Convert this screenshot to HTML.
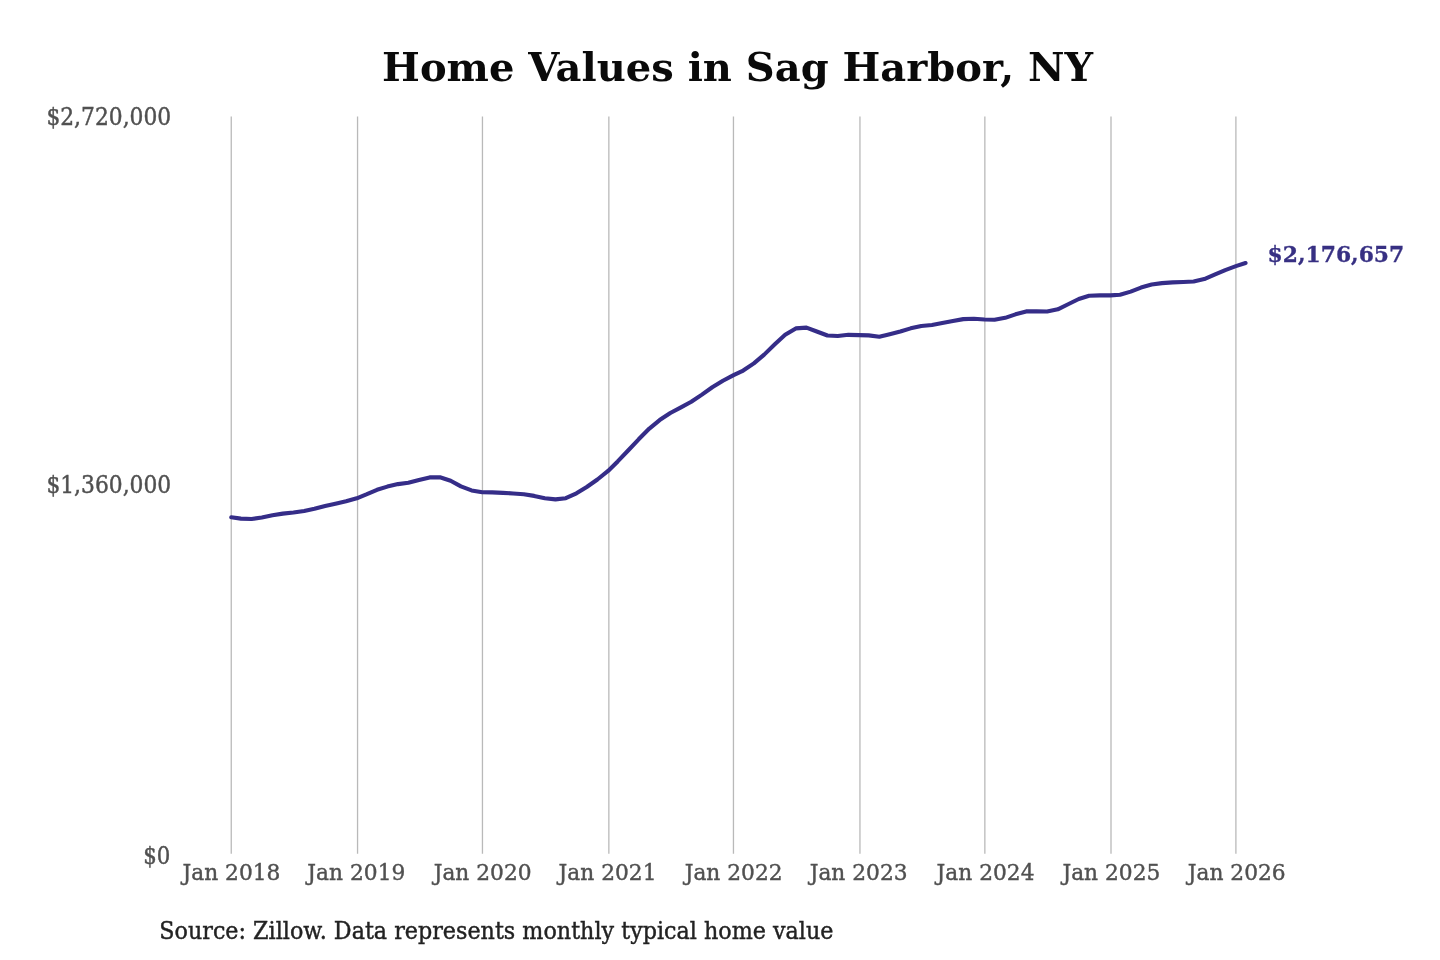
<!DOCTYPE html>
<html lang="en">
<head>
<meta charset="utf-8">
<title>Home Values in Sag Harbor, NY</title>
<style>
html,body{margin:0;padding:0;background:#fff;}
body{width:1440px;height:960px;overflow:hidden;position:relative;}
svg{position:absolute;left:0;top:0;display:block;}
text{font-family:"DejaVu Serif","Liberation Serif",serif;}
.t{font-weight:bold;font-size:40px;fill:#0a0a0a;}
.y{font-size:21.3px;fill:#505050;stroke:#505050;stroke-width:0.4px;}
.x{font-size:22.2px;fill:#505050;stroke:#505050;stroke-width:0.4px;}
.s{font-size:22.2px;fill:#222;stroke:#222;stroke-width:0.4px;}
.v{font-size:21.3px;font-weight:bold;fill:#373083;stroke:#373083;stroke-width:0.3px;}
</style>
</head>
<body>
<svg width="1440" height="960" viewBox="0 0 1440 960">
<rect width="1440" height="960" fill="#ffffff"/>
<text class="t" transform="translate(737.6 81) scale(1 0.968)" text-anchor="middle">Home Values in Sag Harbor, NY</text>
<g stroke="#b9b9b9" stroke-width="1.3">
<line x1="231.25" y1="116.5" x2="231.25" y2="853.7"/>
<line x1="357.55" y1="116.5" x2="357.55" y2="853.7"/>
<line x1="482.45" y1="116.5" x2="482.45" y2="853.7"/>
<line x1="608.85" y1="116.5" x2="608.85" y2="853.7"/>
<line x1="733.45" y1="116.5" x2="733.45" y2="853.7"/>
<line x1="859.95" y1="116.5" x2="859.95" y2="853.7"/>
<line x1="984.85" y1="116.5" x2="984.85" y2="853.7"/>
<line x1="1111.00" y1="116.5" x2="1111.00" y2="853.7"/>
<line x1="1235.90" y1="116.5" x2="1235.90" y2="853.7"/>
</g>
<text class="y" transform="translate(171.20 124.60) scale(1.0240 1.1200)" text-anchor="end">$2,720,000</text>
<text class="y" transform="translate(171.20 492.70) scale(1.0240 1.1200)" text-anchor="end">$1,360,000</text>
<text class="y" transform="translate(170.40 863.70) scale(1.0000 1.1200)" text-anchor="end">$0</text>
<text class="x" transform="translate(231.45 880.00) scale(0.9800 1.0400)" text-anchor="middle">Jan 2018</text>
<text class="x" transform="translate(356.35 880.00) scale(0.9800 1.0400)" text-anchor="middle">Jan 2019</text>
<text class="x" transform="translate(482.65 880.00) scale(0.9800 1.0400)" text-anchor="middle">Jan 2020</text>
<text class="x" transform="translate(607.55 880.00) scale(0.9800 1.0400)" text-anchor="middle">Jan 2021</text>
<text class="x" transform="translate(733.65 880.00) scale(0.9800 1.0400)" text-anchor="middle">Jan 2022</text>
<text class="x" transform="translate(858.65 880.00) scale(0.9800 1.0400)" text-anchor="middle">Jan 2023</text>
<text class="x" transform="translate(985.55 880.00) scale(0.9800 1.0400)" text-anchor="middle">Jan 2024</text>
<text class="x" transform="translate(1111.40 880.00) scale(0.9800 1.0400)" text-anchor="middle">Jan 2025</text>
<text class="x" transform="translate(1236.70 880.00) scale(0.9800 1.0400)" text-anchor="middle">Jan 2026</text>
<path d="M231.25 517.32 L240.88 518.62 L251.54 518.96 L261.85 517.48 L272.51 515.21 L282.82 513.62 L293.48 512.46 L304.14 510.97 L314.46 508.80 L325.11 506.02 L335.43 503.63 L346.09 501.28 L356.75 498.29 L366.37 494.41 L377.03 489.81 L387.35 486.59 L398.00 484.10 L408.32 482.82 L418.98 480.09 L429.64 477.39 L439.95 477.30 L450.61 480.74 L460.92 486.38 L471.58 490.42 L482.24 492.26 L492.21 492.38 L502.87 492.84 L513.18 493.49 L523.84 494.28 L534.16 495.90 L544.82 498.19 L555.47 499.41 L565.79 498.18 L576.45 493.37 L586.76 487.02 L597.42 479.49 L608.08 470.96 L617.71 461.44 L628.37 450.24 L638.68 439.30 L649.34 428.56 L659.65 420.08 L670.31 412.99 L680.97 407.39 L691.28 401.80 L701.94 394.58 L712.26 387.25 L722.92 380.75 L733.58 375.13 L743.20 370.57 L753.86 363.35 L764.18 354.60 L774.83 344.32 L785.15 334.86 L795.81 328.40 L806.47 327.65 L816.78 331.48 L827.44 335.48 L837.75 335.97 L848.41 334.83 L859.07 335.12 L868.70 335.37 L879.36 336.75 L889.67 334.23 L900.33 331.55 L910.64 328.34 L921.30 325.92 L931.96 325.03 L942.28 323.08 L952.93 320.99 L963.25 319.11 L973.91 318.75 L984.57 319.45 L994.54 319.80 L1005.19 317.83 L1015.51 314.34 L1026.17 311.40 L1036.48 311.41 L1047.14 311.50 L1057.80 309.32 L1068.11 304.26 L1078.77 299.01 L1089.09 295.74 L1099.75 295.40 L1110.40 295.40 L1120.03 294.79 L1130.69 291.62 L1141.00 287.59 L1151.66 284.55 L1161.98 283.14 L1172.64 282.37 L1183.30 281.97 L1193.61 281.43 L1204.27 279.02 L1214.58 274.61 L1225.24 270.07 L1235.90 266.16 L1245.53 263.00" fill="none" stroke="#352d88" stroke-width="4.1" stroke-linecap="round" stroke-linejoin="round"/>
<text class="v" transform="translate(1267.60 261.70) scale(1.0250 1.0700)" text-anchor="start">$2,176,657</text>
<text class="s" transform="translate(159.30 938.80) scale(1.0026 1.0600)" text-anchor="start">Source: Zillow. Data represents monthly typical home value</text>
</svg>
</body>
</html>
